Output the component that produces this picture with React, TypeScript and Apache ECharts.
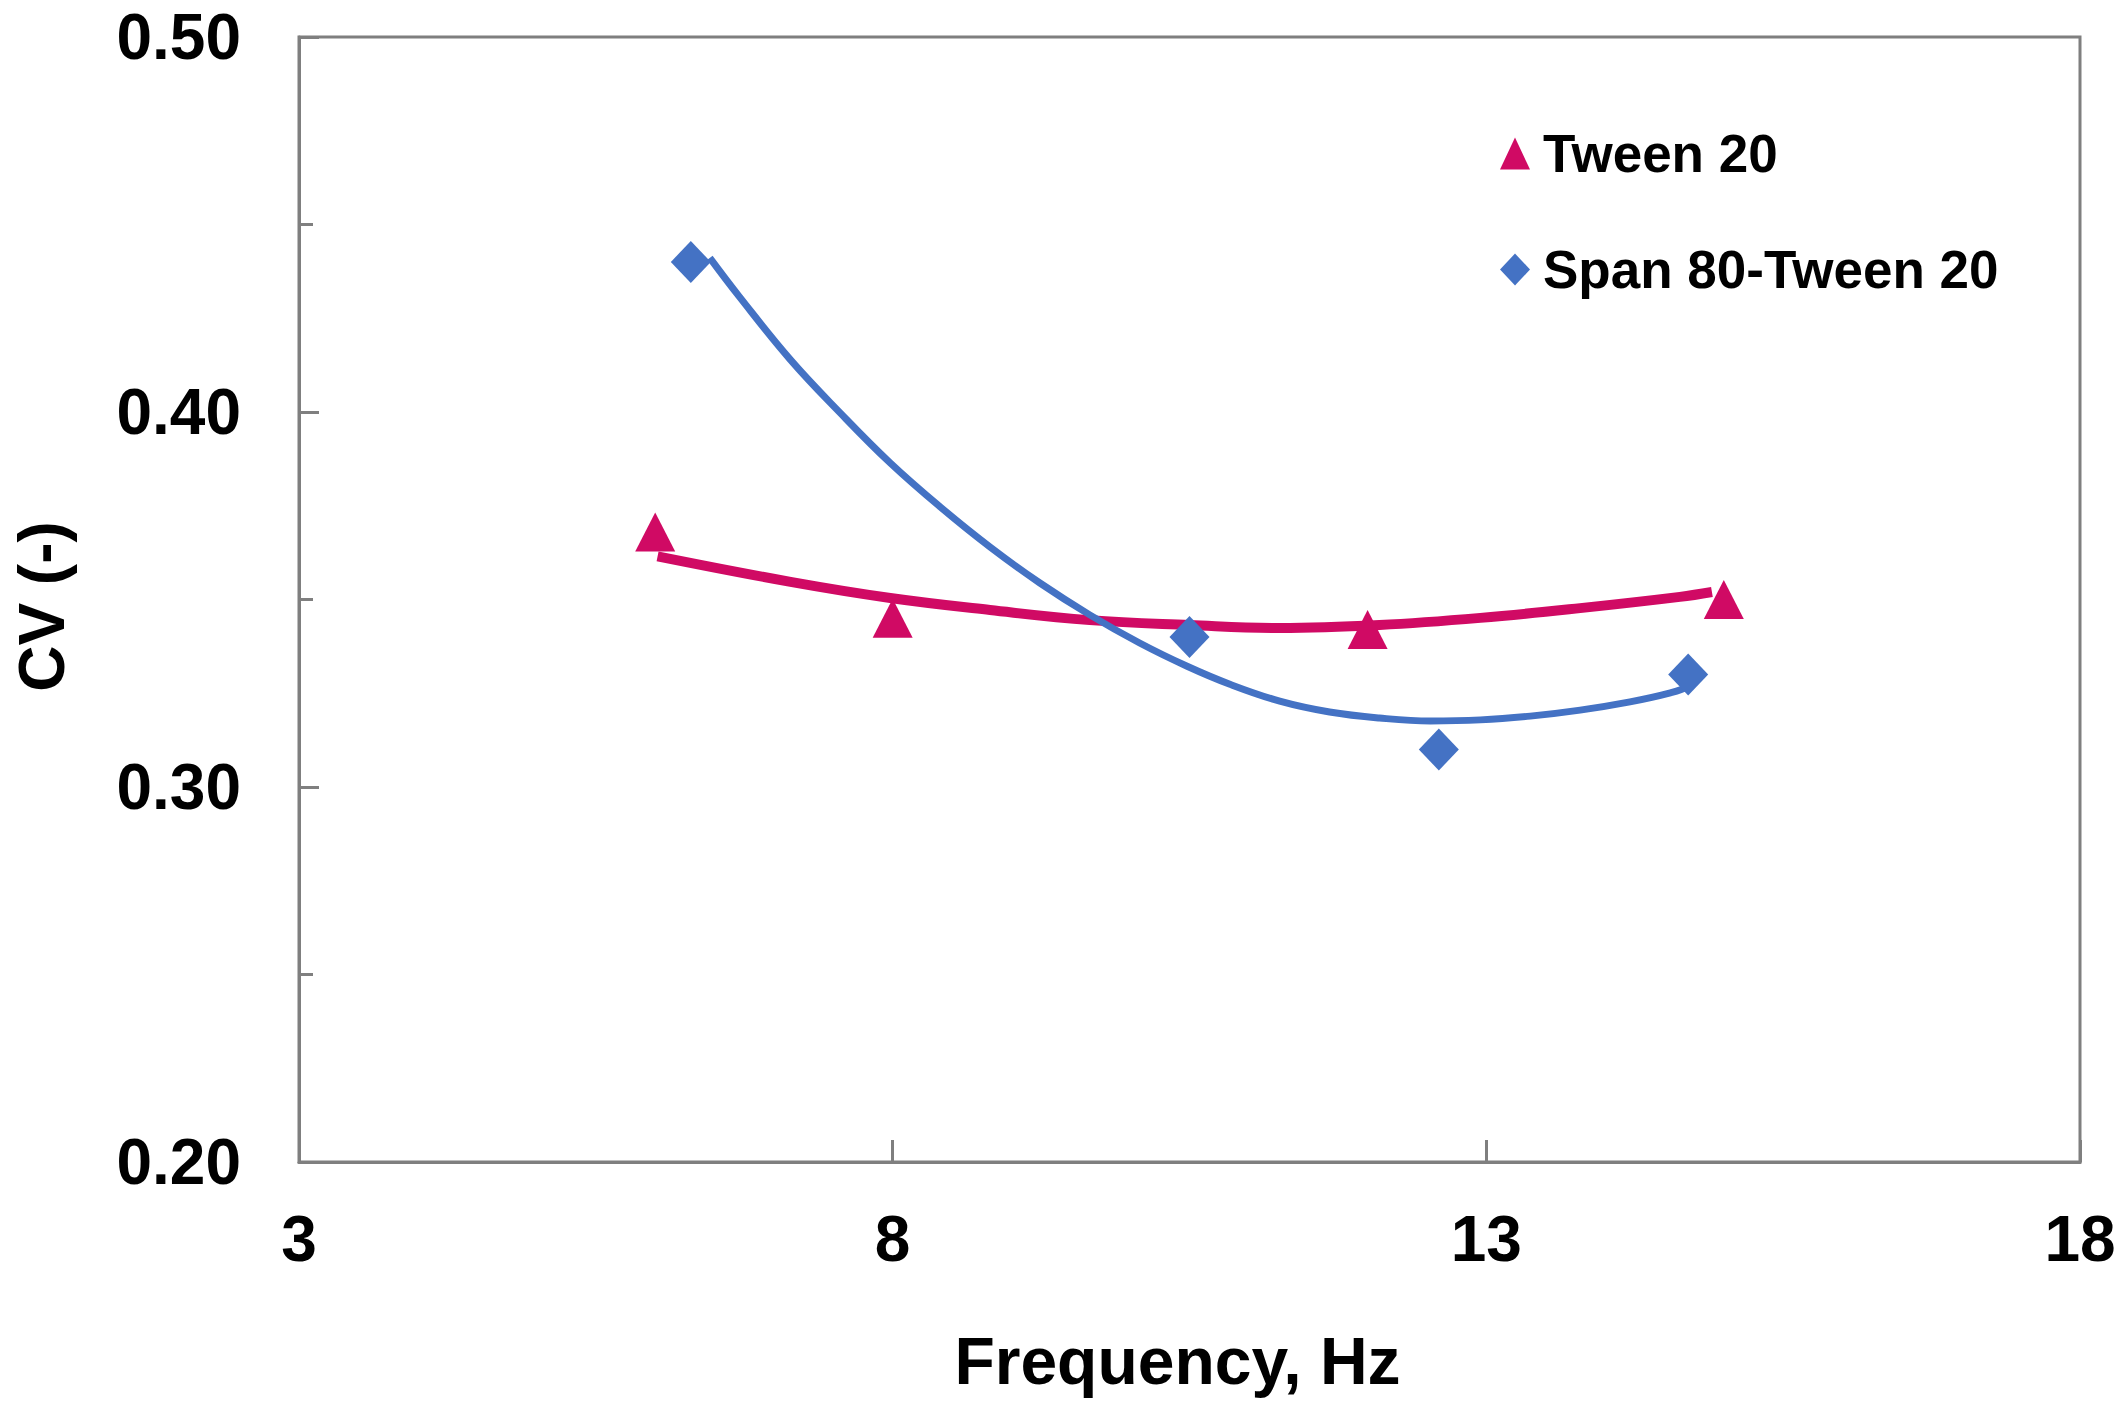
import React, { useEffect, useRef } from "react";
import * as echarts from "echarts";

// Measured points
const tweenX = [6.0, 8.0, 12.0, 15.0];
const tweenY = [0.368, 0.345, 0.342, 0.35];
const spanX = [6.3, 10.5, 12.6, 14.7];
const spanY = [0.44, 0.34, 0.31, 0.33];

// Trend curves
const tweenTrendX = [6.02, 7.14, 7.98, 8.82, 9.66, 10.5, 11.26, 12.1, 12.95, 13.79, 14.63, 14.9];
const tweenTrendY = [0.3615, 0.3547, 0.3504, 0.3472, 0.3445, 0.3432, 0.3424, 0.3432, 0.3451, 0.3477, 0.3507, 0.352];
const spanTrendX = [6.46, 6.71, 7.14, 7.56, 7.98, 8.4, 8.82, 9.24, 9.66, 10.08, 10.48, 10.84, 11.26, 11.68, 12.1, 12.53, 12.95, 13.37, 13.79, 14.21, 14.55, 14.69, 14.71];
const spanTrendY = [0.4411, 0.4307, 0.4139, 0.3997, 0.3864, 0.3747, 0.364, 0.3544, 0.3459, 0.3384, 0.3322, 0.3274, 0.3229, 0.32, 0.3184, 0.3176, 0.3179, 0.3189, 0.3205, 0.3227, 0.3251, 0.3267, 0.328];

// Axis ticks
const xTicks = [3, 8, 13, 18];

const RED = "#D00A64";
const BLUE = "#4472C4";
const AXIS = "#7f7f7f";
const FONT = "Liberation Sans";

const zip = (xs: number[], ys: number[]) => xs.map((x, i) => [x, ys[i]]);

export default function App() {
  const ref = useRef<HTMLDivElement>(null);
  useEffect(() => {
    document.body.style.margin = "0";
    const chart = echarts.init(ref.current!, null, { renderer: "svg" });
    chart.setOption({
      animation: false,
      backgroundColor: "#ffffff",
      textStyle: { fontFamily: FONT },
      grid: {
        left: 299,
        right: 43,
        top: 37,
        bottom: 250,
        show: true,
        borderColor: AXIS,
        borderWidth: 3,
        containLabel: false,
      },
      legend: {
        orient: "vertical",
        left: 1495,
        top: 122,
        itemWidth: 30,
        itemHeight: 32,
        itemGap: 63,
        data: [
          { name: "Tween 20", icon: "triangle" },
          { name: "Span 80-Tween 20", icon: "diamond" },
        ],
        textStyle: {
          fontFamily: FONT,
          fontWeight: "bold",
          fontSize: 53,
          color: "#000",
          padding: [0, 0, 0, 8],
        },
      },
      xAxis: {
        type: "value",
        min: 3,
        max: 18,
        name: "Frequency, Hz",
        nameLocation: "middle",
        nameGap: 166,
        nameTextStyle: {
          fontFamily: FONT,
          fontWeight: "bold",
          fontSize: 66,
          color: "#000",
          padding: [0, 24, 0, 0],
        },
        axisLine: { show: true, lineStyle: { color: AXIS, width: 3 } },
        axisTick: { show: true, inside: true, length: 22, customValues: xTicks, lineStyle: { color: AXIS, width: 3 } },
        axisLabel: {
          customValues: xTicks,
          margin: 45,
          fontFamily: FONT,
          fontWeight: "bold",
          fontSize: 64,
          color: "#000",
        },
        splitLine: { show: false },
      },
      yAxis: {
        type: "value",
        min: 0.2,
        max: 0.5,
        interval: 0.1,
        name: "CV (-)",
        nameLocation: "middle",
        nameGap: 225,
        nameTextStyle: {
          fontFamily: FONT,
          fontWeight: "bold",
          fontSize: 64,
          color: "#000",
          padding: [0, 14, 0, 0],
        },
        axisLine: { show: true, lineStyle: { color: AXIS, width: 3 } },
        axisTick: { show: true, inside: true, length: 20, lineStyle: { color: AXIS, width: 3 } },
        minorTick: { show: true, splitNumber: 2, length: 14, lineStyle: { color: AXIS, width: 3 } },
        axisLabel: {
          margin: 58,
          fontFamily: FONT,
          fontWeight: "bold",
          fontSize: 64,
          color: "#000",
          formatter: (v: number) => v.toFixed(2),
        },
        splitLine: { show: false },
        minorSplitLine: { show: false },
      },
      series: [
        {
          name: "Tween 20 trend",
          type: "line",
          data: zip(tweenTrendX, tweenTrendY),
          smooth: 0.4,
          showSymbol: false,
          lineStyle: { color: RED, width: 10 },
          z: 2,
        },
        {
          name: "Span 80-Tween 20 trend",
          type: "line",
          data: zip(spanTrendX, spanTrendY),
          smooth: 0.4,
          showSymbol: false,
          lineStyle: { color: BLUE, width: 7 },
          z: 2,
        },
        {
          name: "Tween 20",
          type: "scatter",
          data: zip(tweenX, tweenY),
          symbol: "triangle",
          symbolSize: [40, 39],
          itemStyle: { color: RED, opacity: 1 },
          z: 3,
        },
        {
          name: "Span 80-Tween 20",
          type: "scatter",
          data: zip(spanX, spanY),
          symbol: "diamond",
          symbolSize: [40, 42],
          itemStyle: { color: BLUE, opacity: 1 },
          z: 3,
        },
      ],
    });
    return () => chart.dispose();
  }, []);
  return <div ref={ref} style={{ width: 2123, height: 1412 }} />;
}
